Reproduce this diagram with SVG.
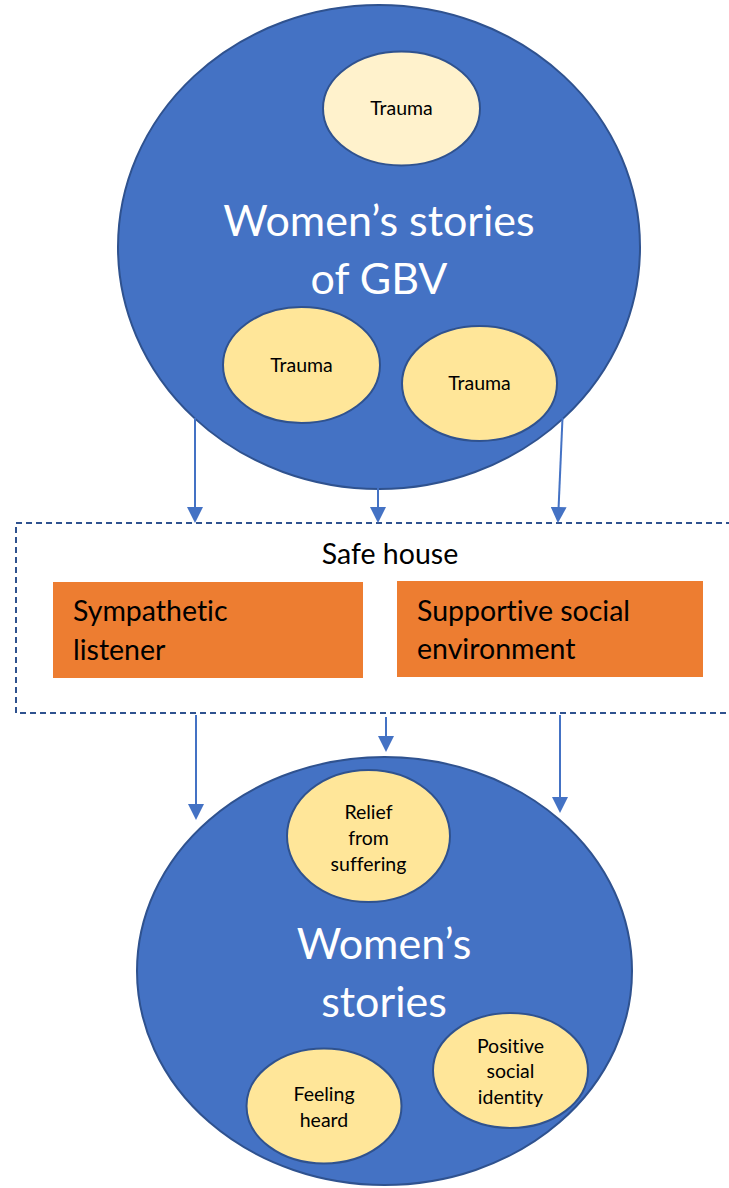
<svg xmlns="http://www.w3.org/2000/svg" width="729" height="1188" viewBox="0 0 729 1188">
<style>
.big{fill:#4472C4;stroke:#2F528F;stroke-width:2}
.small{fill:#FFE699;stroke:#2F528F;stroke-width:2}
.pale{fill:#FFF2CC;stroke:#2F528F;stroke-width:2}
.orange{fill:#ED7D31}
text{font-variant-ligatures:none}
.t{font-family:Lato,"Liberation Sans",sans-serif;fill:#000}
.s{font-size:19.5px;text-anchor:middle}
.w{font-family:Lato,"Liberation Sans",sans-serif;fill:#fff;font-size:43px;text-anchor:middle}
.m{font-size:28.5px}
.arr{stroke:#4472C4;stroke-width:2;fill:none;marker-end:url(#ah)}
</style>
<defs>
<marker id="ah" markerWidth="8" markerHeight="8" refX="7" refY="4" orient="auto" markerUnits="strokeWidth">
<path d="M0,0 L8,4 L0,8 z" fill="#4472C4"/>
</marker>
</defs>
<g id="top-circle">
<ellipse class="big" cx="379" cy="247" rx="261" ry="242"/>
<text class="w" x="379" y="236">Women’s stories</text>
<text class="w" x="379" y="294">of GBV</text>
</g>
<g id="trauma1">
<ellipse class="pale" cx="401.5" cy="108.5" rx="78.5" ry="57"/>
<text class="t s" x="401.5" y="115">Trauma</text>
</g>
<g id="trauma2">
<ellipse class="small" cx="301.5" cy="365" rx="78.5" ry="58"/>
<text class="t s" x="301.5" y="372">Trauma</text>
</g>
<g id="trauma3">
<ellipse class="small" cx="479.5" cy="383.5" rx="77.5" ry="57.5"/>
<text class="t s" x="479.5" y="390">Trauma</text>
</g>
<g id="safe-house">
<rect x="16" y="523" width="730" height="190" fill="none" stroke="#2F528F" stroke-width="2" stroke-dasharray="6 4"/>
<text class="t m" x="390" y="564" text-anchor="middle">Safe house</text>
</g>
<g id="sympathetic-listener">
<rect class="orange" x="53" y="582" width="310" height="96"/>
<text class="t m" x="73" y="621">Sympathetic</text>
<text class="t m" x="73" y="660">listener</text>
</g>
<g id="supportive-env">
<rect class="orange" x="397" y="581" width="306" height="96"/>
<text class="t m" x="417" y="621">Supportive social</text>
<text class="t m" x="417" y="659">environment</text>
</g>
<g id="bottom-circle">
<ellipse class="big" cx="384.5" cy="971" rx="247.5" ry="214"/>
<text class="w" x="384" y="959">Women’s</text>
<text class="w" x="384" y="1017">stories</text>
</g>
<g id="relief">
<ellipse class="small" cx="368.5" cy="836" rx="81.5" ry="66"/>
<text class="t s" x="368.5" y="819">Relief</text>
<text class="t s" x="368.5" y="845">from</text>
<text class="t s" x="368.5" y="871">suffering</text>
</g>
<g id="feeling-heard">
<ellipse class="small" cx="324" cy="1106" rx="77.5" ry="57.5"/>
<text class="t s" x="324" y="1101">Feeling</text>
<text class="t s" x="324" y="1127">heard</text>
</g>
<g id="positive-identity">
<ellipse class="small" cx="510.5" cy="1070.5" rx="77.5" ry="57.5"/>
<text class="t s" x="510.5" y="1053">Positive</text>
<text class="t s" x="510.5" y="1078">social</text>
<text class="t s" x="510.5" y="1104">identity</text>
</g>
<g id="connectors">
<line class="arr" x1="195" y1="418" x2="195" y2="521"/>
<line class="arr" x1="378" y1="488" x2="378" y2="521"/>
<line class="arr" x1="562.5" y1="418" x2="558" y2="521"/>
<line class="arr" x1="196" y1="715" x2="196" y2="818"/>
<line class="arr" x1="386" y1="717" x2="386" y2="750"/>
<line class="arr" x1="560" y1="715" x2="560" y2="811"/>
</g>
</svg>
